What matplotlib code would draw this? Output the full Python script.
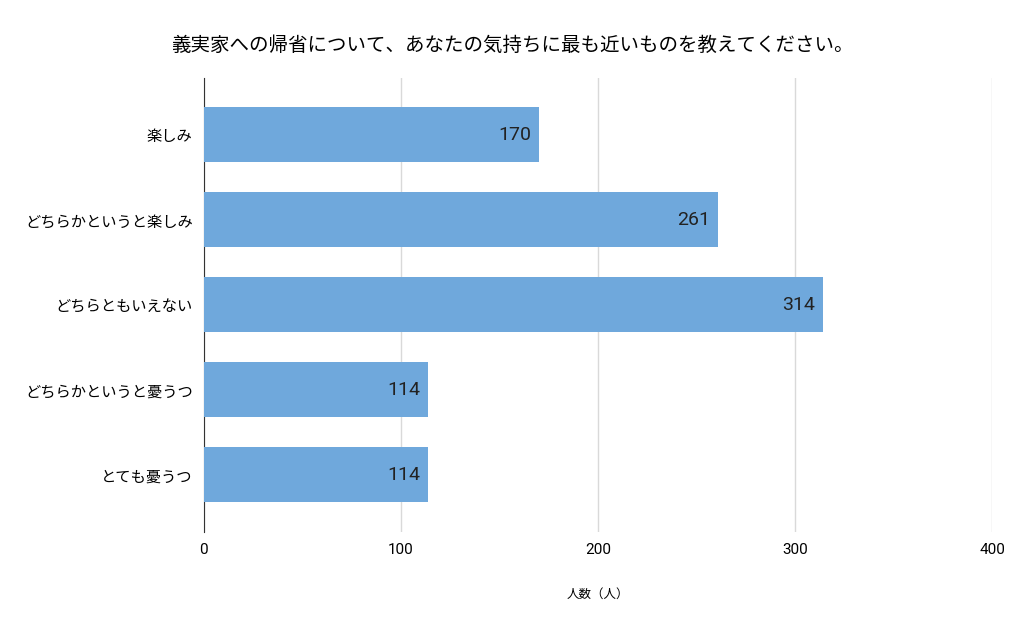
import matplotlib
matplotlib.use("Agg")
import matplotlib.pyplot as plt

plt.rcParams['font.family'] = ['Noto Sans CJK JP', 'DejaVu Sans']

categories = ["楽しみ", "どちらかというと楽しみ", "どちらともいえない", "どちらかというと憂うつ", "とても憂うつ"]
values = [170, 261, 314, 114, 114]
xticks = [0, 100, 200, 300, 400]

fig = plt.figure(figsize=(10.24, 6.33), dpi=100)
ax = fig.add_axes([0.199, 0.16, 0.77, 0.717])

ypos = range(len(categories))
ax.barh(ypos, values, height=0.65, color="#6fa8dc", zorder=3)
for y, v in zip(ypos, values):
    ax.text(v - 4, y, str(v), ha="right", va="center", fontsize=14,
            family=['Roboto', 'DejaVu Sans'], color="#222222", zorder=4)

ax.set_yticks(list(ypos))
ax.set_yticklabels(categories, fontsize=11)
ax.set_ylim(4.67, -0.67)
ax.set_xlim(0, 400)
ax.set_xticks(xticks)
ax.set_xticklabels([str(t) for t in xticks], fontsize=11, family=['Roboto', 'DejaVu Sans'])
ax.grid(axis="x", color="#d9d9d9", linewidth=1, zorder=0)
ax.tick_params(length=0, pad=8)
for s in ["top", "right", "bottom"]:
    ax.spines[s].set_visible(False)
ax.spines["left"].set_color("#333333")

ax.set_xlabel("人数（人）", fontsize=9, labelpad=22)
fig.suptitle("義実家への帰省について、あなたの気持ちに最も近いものを教えてください。",
             fontsize=14, y=0.945, x=0.5)

fig.savefig("out.png", dpi=100)
